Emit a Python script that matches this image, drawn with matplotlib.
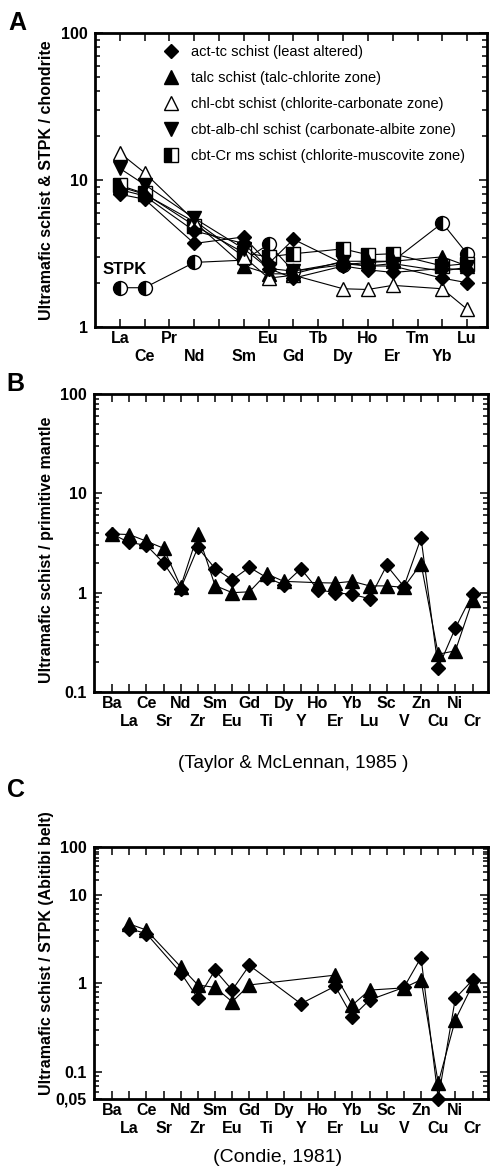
import numpy as np
import matplotlib
matplotlib.use('Agg')
import matplotlib.pyplot as plt
import matplotlib.ticker as ticker
from matplotlib.lines import Line2D

nan = np.nan

# ---- panel A: REE / chondrite ----
ree = ['La', 'Ce', 'Pr', 'Nd', 'Pm', 'Sm', 'Eu', 'Gd', 'Tb', 'Dy', 'Ho', 'Er', 'Tm', 'Yb', 'Lu']
ree_labels = ['La', 'Ce', 'Pr', 'Nd', '', 'Sm', 'Eu', 'Gd', 'Tb', 'Dy', 'Ho', 'Er', 'Tm', 'Yb', 'Lu']
ree_low = ['Ce', 'Nd', 'Sm', 'Gd', 'Dy', 'Er', 'Yb']

act_tc_1 = [8.0, 7.4, nan, 3.7, nan, 4.1, 2.7, 3.95, nan, 2.7, 2.6, 2.6, nan, 2.15, 2.0]
act_tc_2 = [8.6, 7.8, nan, 4.5, nan, 3.7, 2.5, 2.15, nan, 2.6, 2.45, 2.35, nan, 2.5, 2.45]
talc = [9.0, 8.0, nan, 5.2, nan, 2.6, 2.3, 2.3, nan, 2.8, 2.8, 2.8, nan, 3.0, 2.6]
chl_cbt = [15.3, 11.2, nan, 5.3, nan, 3.0, 2.15, 2.25, nan, 1.82, 1.8, 1.92, nan, 1.82, 1.32]
cbt_alb = [12.0, 9.3, nan, 5.5, nan, 3.4, 2.5, 2.4, nan, 2.75, 2.6, 2.7, nan, 2.4, 2.55]
cbt_cr = [9.2, 8.1, nan, 4.9, nan, 3.2, 3.0, 3.15, nan, 3.4, 3.1, 3.15, nan, 2.6, 2.7]
stpk = [1.85, 1.85, nan, 2.75, nan, 2.85, 3.65, 2.4, nan, 2.65, 2.75, 2.8, nan, 5.1, 3.15]

legend_labels = ['act-tc schist (least altered)',
                 'talc schist (talc-chlorite zone)',
                 'chl-cbt schist (chlorite-carbonate zone)',
                 'cbt-alb-chl schist (carbonate-albite zone)',
                 'cbt-Cr ms schist (chlorite-muscovite zone)']

# ---- panels B and C: extended spider ----
elems = ['Ba', 'La', 'Ce', 'Sr', 'Nd', 'Zr', 'Sm', 'Eu', 'Gd', 'Ti', 'Dy',
         'Y', 'Ho', 'Er', 'Yb', 'Lu', 'Sc', 'V', 'Zn', 'Cu', 'Ni', 'Cr']
elems_low = elems[1::2]

pm_diamond = [3.9, 3.2, 3.0, 2.0, 1.1, 2.85, 1.75, 1.35, 1.8, 1.42, 1.2,
              1.74, 1.07, 1.0, 0.96, 0.87, 1.88, 1.15, 3.55, 0.175, 0.44, 0.97]
pm_triangle = [3.9, 3.85, 3.3, 2.8, 1.15, 3.9, 1.18, 1.0, 1.02, 1.55, 1.3,
               nan, 1.26, 1.25, 1.3, 1.17, 1.17, 1.13, 1.96, 0.24, 0.26, 0.84]

ab_diamond = [nan, 4.15, 3.65, nan, 1.32, 0.68, 1.41, 0.84, 1.6, nan, nan,
              0.59, nan, 0.93, 0.42, 0.65, nan, 0.9, 1.96, 0.05, 0.68, 1.09]
ab_triangle = [nan, 4.7, 4.0, nan, 1.54, 0.96, 0.9, 0.62, 0.96, nan, nan,
               nan, nan, 1.24, 0.57, 0.84, nan, 0.89, 1.1, 0.075, 0.39, 0.96]

W, H = 491, 1168
plt.rcParams['font.family'] = ['Liberation Sans', 'DejaVu Sans']
fig = plt.figure(figsize=(W / 100, H / 100), dpi=100)


def add_axes(l, t, r, b):
    return fig.add_axes([l / W, 1 - b / H, (r - l) / W, (b - t) / H])


def fxy(x, y):
    return x / W, 1 - y / H


def draw(ax, vals, marker, ms, fill='full', face='black', z=3):
    y = np.asarray(vals, float)
    x = np.arange(len(y))
    m = np.isfinite(y)
    ax.plot(x[m], y[m], color='black', lw=0.8, marker=marker, ms=ms,
            mec='black', mew=1.0, mfc=face, fillstyle=fill,
            markerfacecoloralt='white', zorder=z, clip_on=False)


def two_row_xticks(ax, labels, low):
    # upper row on major ticks, lower row on minor ticks pushed further down
    up = [i for i, t in enumerate(labels) if t not in low]
    dn = [i for i, t in enumerate(labels) if t in low]
    ax.set_xticks(up, [labels[i] for i in up])
    ax.set_xticks(dn, [labels[i] for i in dn], minor=True)


def style(ax):
    for s in ax.spines.values():
        s.set_linewidth(2.0)
    ax.tick_params(which='both', direction='in', top=True, right=True, width=1.1,
                   labelsize=11.5)
    ax.tick_params(which='major', length=6)
    ax.tick_params(axis='y', which='minor', length=3.5)
    ax.tick_params(axis='x', which='major', pad=3)
    ax.tick_params(axis='x', which='minor', length=6, pad=15.5)
    ax.tick_params(axis='y', pad=5)
    labs = (ax.get_xticklabels() + ax.get_xticklabels(minor=True)
            + ax.get_yticklabels())
    for lab in labs:
        lab.set_fontweight('bold')


# ---------------- A ----------------
axA = add_axes(95, 33, 487, 327)
axA.set_yscale('log')
axA.set_ylim(1, 100)
axA.set_xlim(-1.0, 14.8)
axA.set_yticks([1, 10, 100], ['1', '10', '100'])
axA.yaxis.set_minor_locator(ticker.LogLocator(subs=np.arange(2, 10)))
axA.yaxis.set_minor_formatter(ticker.NullFormatter())
two_row_xticks(axA, ree_labels, ree_low)

draw(axA, stpk, 'o', 10, fill='left')
draw(axA, cbt_cr, 's', 9.5, fill='left')
draw(axA, talc, '^', 10)
draw(axA, chl_cbt, '^', 10, face='white')
draw(axA, cbt_alb, 'v', 10)
draw(axA, act_tc_2, 'D', 7)
draw(axA, act_tc_1, 'D', 7)
style(axA)

handles = [Line2D([], [], ls='none', marker='D', ms=7, color='black'),
           Line2D([], [], ls='none', marker='^', ms=10.5, color='black'),
           Line2D([], [], ls='none', marker='^', ms=10.5, mfc='white', mec='black'),
           Line2D([], [], ls='none', marker='v', ms=10.5, color='black'),
           Line2D([], [], ls='none', marker='s', ms=9.5, mfc='black', mec='black',
                  fillstyle='left', markerfacecoloralt='white')]
axA.legend(handles, legend_labels, loc='upper left', bbox_to_anchor=(0.175, 0.958),
           frameon=False, fontsize=10.5, handlelength=1.0, handletextpad=0.85,
           labelspacing=0.82, borderpad=0, borderaxespad=0)
axA.text(0.2, 2.46, 'STPK', ha='center', va='center', fontsize=12, fontweight='bold')

# ---------------- B ----------------
axB = add_axes(94, 394, 488, 692)
axB.set_yscale('log')
axB.set_ylim(0.1, 100)
axB.set_xlim(-1.05, 21.9)
axB.set_yticks([0.1, 1, 10, 100], ['0.1', '1', '10', '100'])
axB.yaxis.set_minor_locator(ticker.LogLocator(subs=np.arange(2, 10)))
axB.yaxis.set_minor_formatter(ticker.NullFormatter())
two_row_xticks(axB, elems, elems_low)
draw(axB, pm_diamond, 'D', 7)
draw(axB, pm_triangle, '^', 10.5)
style(axB)

# ---------------- C ----------------
k_top = 0.54  # the 10-100 decade is drawn compressed in the original


def c_fwd(v):
    lv = np.log10(np.clip(np.asarray(v, float), 1e-12, None))
    return np.where(lv > 1, 1 + (lv - 1) * k_top, lv)


def c_inv(t):
    t = np.clip(np.asarray(t, float), -12, 3)
    return np.where(t > 1, 10 ** (1 + (t - 1) / k_top), 10 ** t)


axC = add_axes(94, 847, 488, 1099)
axC.set_yscale('function', functions=(c_fwd, c_inv))
axC.set_ylim(0.0495, 100)
axC.set_xlim(-1.05, 21.9)
axC.set_yticks([0.05, 0.1, 1, 10, 100], ['0,05', '0.1', '1', '10', '100'])
minors = [m * 10.0 ** e for e in (-2, -1, 0, 1) for m in range(2, 10)]
minors = [v for v in minors if 0.05 < v < 100]
axC.yaxis.set_minor_locator(ticker.FixedLocator(minors))
axC.yaxis.set_minor_formatter(ticker.NullFormatter())
two_row_xticks(axC, elems, elems_low)
draw(axC, ab_triangle, '^', 10.5)
draw(axC, ab_diamond, 'D', 7)
style(axC)

# ---- labels ----
fig.text(*fxy(47, 180), 'Ultramafic schist & STPK / chondrite', rotation=90,
         ha='center', va='center', fontsize=11.5, fontweight='bold')
fig.text(*fxy(47, 550), 'Ultramafic schist / primitive mantle', rotation=90,
         ha='center', va='center', fontsize=11.5, fontweight='bold')
fig.text(*fxy(47, 953), 'Ultramafic schist / STPK (Abitibi belt)', rotation=90,
         ha='center', va='center', fontsize=11.5, fontweight='bold')

for letter, (lx, ly) in zip('ABC', [(17, 23), (15, 384), (16, 790)]):
    fig.text(*fxy(lx, ly), letter, ha='center', va='center', fontsize=18,
             fontweight='bold')

fig.text(*fxy(293, 763), '(Taylor & McLennan, 1985 )', ha='center', va='center',
         fontsize=13.5)
fig.text(*fxy(278, 1157), '(Condie, 1981)', ha='center', va='center', fontsize=14)

fig.savefig('out.png', dpi=100)
